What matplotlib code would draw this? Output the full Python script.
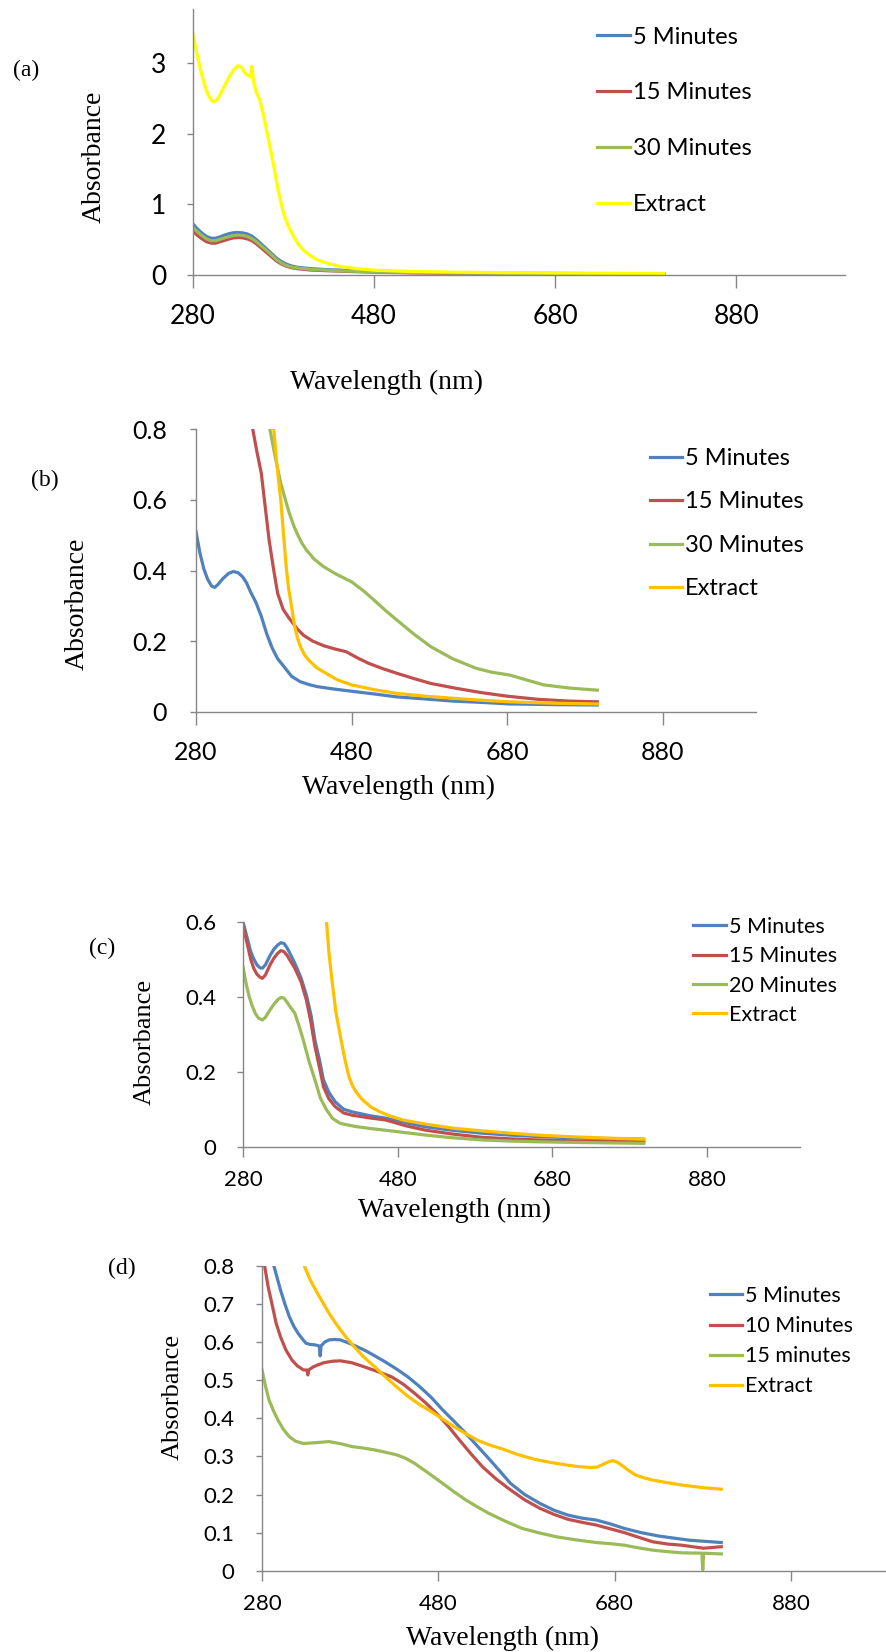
import matplotlib
matplotlib.use("Agg")
import matplotlib.pyplot as plt
from matplotlib import font_manager

names = {f.name for f in font_manager.fontManager.ttflist}
SANS = ['Lato', 'DejaVu Sans'] if 'Lato' in names else ['Liberation Sans', 'DejaVu Sans']
SERIF = ['Liberation Serif', 'DejaVu Serif']

# ---------------- data ----------------
labels_abc = ["5 Minutes", "15 Minutes", "30 Minutes", "Extract"]
labels_c = ["5 Minutes", "15 Minutes", "20 Minutes", "Extract"]
labels_d = ["5 Minutes", "10 Minutes", "15 minutes", "Extract"]
x_ticks = [280, 480, 680, 880]

# panel (a)
a_wl_5 = [280, 285, 290, 295, 300, 305, 310, 315, 320, 325, 330, 335, 340, 345, 350, 356, 362, 367, 372, 377, 382, 388, 395, 402, 410, 425, 440, 460, 480, 520, 550, 600, 650, 720, 800]
a_ab_5 = [0.72, 0.65, 0.59, 0.545, 0.52, 0.52, 0.54, 0.565, 0.585, 0.598, 0.60, 0.595, 0.58, 0.55, 0.50, 0.43, 0.36, 0.30, 0.24, 0.195, 0.16, 0.13, 0.11, 0.10, 0.09, 0.078, 0.07, 0.06, 0.05, 0.04, 0.035, 0.03, 0.025, 0.02, 0.018]
a_wl_15 = [280, 285, 290, 295, 300, 305, 310, 315, 320, 325, 330, 335, 340, 345, 350, 356, 362, 367, 372, 377, 382, 388, 395, 402, 410, 425, 440, 460, 480, 520, 550, 600, 650, 720, 800]
a_ab_15 = [0.62, 0.56, 0.51, 0.47, 0.45, 0.45, 0.47, 0.49, 0.51, 0.525, 0.53, 0.525, 0.51, 0.485, 0.44, 0.375, 0.31, 0.255, 0.20, 0.16, 0.13, 0.105, 0.09, 0.08, 0.07, 0.062, 0.055, 0.047, 0.04, 0.03, 0.025, 0.02, 0.015, 0.012, 0.01]
a_wl_30 = [280, 285, 290, 295, 300, 305, 310, 315, 320, 325, 330, 335, 340, 345, 350, 356, 362, 367, 372, 377, 382, 388, 395, 402, 410, 425, 440, 460, 480, 520, 550, 600, 650, 720, 800]
a_ab_30 = [0.67, 0.61, 0.555, 0.51, 0.485, 0.485, 0.505, 0.525, 0.545, 0.558, 0.565, 0.56, 0.545, 0.515, 0.47, 0.405, 0.34, 0.28, 0.22, 0.175, 0.14, 0.115, 0.10, 0.09, 0.08, 0.07, 0.06, 0.052, 0.045, 0.035, 0.03, 0.025, 0.02, 0.017, 0.015]
a_wl_ex = [280, 284, 288, 292, 296, 300, 303, 306, 310, 315, 320, 325, 330, 334, 337, 341, 344, 345, 347, 350, 354, 358, 362, 368, 374, 380, 385, 390, 396, 402, 410, 418, 430, 443, 460, 481, 520, 570, 650, 720, 800]
a_ab_ex = [3.40, 3.15, 2.92, 2.72, 2.57, 2.47, 2.45, 2.47, 2.55, 2.68, 2.80, 2.90, 2.96, 2.93, 2.86, 2.82, 2.80, 2.95, 2.72, 2.58, 2.47, 2.25, 2.00, 1.62, 1.20, 0.87, 0.70, 0.57, 0.44, 0.35, 0.27, 0.21, 0.16, 0.12, 0.09, 0.068, 0.05, 0.04, 0.03, 0.025, 0.02]

# panel (b)
b_wl_5 = [280, 285, 290, 295, 300, 304, 308, 315, 322, 328, 334, 340, 345, 350, 357, 364, 371, 378, 385, 393, 403, 414, 425, 436, 458, 480, 510, 538, 575, 611, 650, 683, 740, 796]
b_ab_5 = [0.51, 0.45, 0.405, 0.375, 0.356, 0.352, 0.36, 0.378, 0.392, 0.397, 0.394, 0.382, 0.365, 0.34, 0.31, 0.27, 0.22, 0.18, 0.15, 0.128, 0.10, 0.085, 0.077, 0.071, 0.064, 0.058, 0.05, 0.042, 0.036, 0.030, 0.026, 0.022, 0.02, 0.019]
b_wl_15 = [340, 347, 353, 358, 364, 369, 374, 380, 385, 392, 400, 410, 418, 430, 444, 458, 473, 488, 502, 520, 538, 560, 582, 615, 647, 680, 720, 760, 796]
b_ab_15 = [0.96, 0.88, 0.80, 0.74, 0.675, 0.58, 0.486, 0.40, 0.335, 0.29, 0.264, 0.235, 0.217, 0.20, 0.187, 0.178, 0.170, 0.152, 0.137, 0.122, 0.109, 0.094, 0.080, 0.066, 0.054, 0.044, 0.035, 0.03, 0.028]
b_wl_30 = [360, 368, 375, 382, 389, 395, 400, 406, 411, 416, 422, 432, 444, 460, 480, 495, 509, 523, 538, 560, 582, 610, 640, 660, 683, 705, 727, 760, 796]
b_ab_30 = [0.95, 0.87, 0.80, 0.72, 0.647, 0.60, 0.562, 0.525, 0.50, 0.478, 0.458, 0.432, 0.411, 0.39, 0.368, 0.343, 0.316, 0.288, 0.260, 0.22, 0.184, 0.15, 0.123, 0.112, 0.104, 0.09, 0.076, 0.067, 0.061]
b_wl_ex = [370, 375, 380, 384, 389, 393, 396, 399, 402, 407, 411, 415, 420, 425, 435, 447, 462, 480, 510, 538, 575, 611, 650, 683, 740, 796]
b_ab_ex = [0.95, 0.88, 0.80, 0.70, 0.60, 0.49, 0.41, 0.35, 0.31, 0.24, 0.205, 0.18, 0.16, 0.146, 0.125, 0.109, 0.09, 0.076, 0.062, 0.052, 0.044, 0.038, 0.032, 0.028, 0.024, 0.022]

# panel (c)
c_wl_5 = [280, 285, 290, 294, 298, 302, 305, 309, 315, 320, 325, 329, 333, 337, 342, 347, 351, 355, 362, 368, 373, 379, 384, 391, 399, 410, 421, 443, 465, 490, 516, 550, 589, 625, 662, 720, 798]
c_ab_5 = [0.60, 0.56, 0.52, 0.50, 0.485, 0.477, 0.476, 0.485, 0.51, 0.527, 0.538, 0.544, 0.542, 0.53, 0.51, 0.489, 0.47, 0.45, 0.404, 0.35, 0.284, 0.23, 0.178, 0.145, 0.12, 0.10, 0.093, 0.083, 0.076, 0.064, 0.053, 0.044, 0.036, 0.031, 0.027, 0.023, 0.020]
c_wl_15 = [280, 285, 290, 294, 298, 302, 305, 309, 315, 320, 325, 329, 333, 337, 342, 347, 351, 355, 362, 368, 373, 379, 384, 391, 399, 410, 421, 443, 465, 490, 516, 550, 589, 625, 662, 720, 798]
c_ab_15 = [0.59, 0.545, 0.50, 0.475, 0.46, 0.452, 0.449, 0.458, 0.485, 0.503, 0.516, 0.523, 0.52, 0.51, 0.493, 0.476, 0.458, 0.44, 0.391, 0.33, 0.267, 0.21, 0.16, 0.128, 0.107, 0.09, 0.084, 0.077, 0.071, 0.056, 0.044, 0.034, 0.025, 0.021, 0.018, 0.015, 0.013]
c_wl_20 = [280, 284, 288, 292, 296, 300, 305, 309, 315, 320, 325, 329, 333, 337, 342, 347, 352, 358, 365, 373, 380, 388, 396, 406, 425, 443, 480, 516, 550, 589, 625, 662, 720, 798]
c_ab_20 = [0.48, 0.435, 0.40, 0.375, 0.355, 0.343, 0.338, 0.345, 0.365, 0.38, 0.392, 0.398, 0.396, 0.385, 0.37, 0.356, 0.325, 0.284, 0.23, 0.178, 0.13, 0.098, 0.075, 0.062, 0.054, 0.049, 0.04, 0.031, 0.024, 0.018, 0.015, 0.013, 0.011, 0.009]
c_wl_ex = [380, 384, 388, 391, 395, 400, 406, 412, 417, 421, 425, 430, 435, 446, 457, 470, 487, 520, 553, 590, 626, 660, 699, 750, 798]
c_ab_ex = [0.90, 0.74, 0.60, 0.52, 0.444, 0.36, 0.293, 0.23, 0.187, 0.165, 0.15, 0.136, 0.124, 0.105, 0.093, 0.082, 0.071, 0.059, 0.049, 0.042, 0.036, 0.031, 0.027, 0.023, 0.020]

# panel (d)
d_wl_5 = [285, 293.5, 301, 306, 311, 316, 321, 326, 330, 335, 340, 345, 346, 347, 351, 356, 362, 369, 378, 388, 398, 408, 420, 433, 446, 459, 472, 485, 498, 511, 524, 537, 550, 562, 578, 595, 611, 627, 643, 659, 675, 691, 710, 730, 765, 801]
d_ab_5 = [0.86, 0.80, 0.737, 0.70, 0.667, 0.642, 0.623, 0.608, 0.597, 0.594, 0.593, 0.59, 0.564, 0.59, 0.60, 0.606, 0.607, 0.606, 0.598, 0.588, 0.577, 0.564, 0.548, 0.529, 0.508, 0.483, 0.455, 0.422, 0.392, 0.361, 0.328, 0.295, 0.261, 0.229, 0.2, 0.177, 0.159, 0.146, 0.138, 0.133, 0.123, 0.111, 0.1, 0.091, 0.08, 0.074]
d_wl_10 = [280, 283, 287, 292, 296, 301, 307, 314, 320, 327, 331, 332, 333, 338, 343, 350, 360, 369, 382, 395, 410, 427, 440, 453, 466, 478, 491, 504, 517, 530, 546, 562, 578, 595, 611, 627, 643, 659, 675, 691, 707, 723, 740, 756, 781, 801]
d_ab_10 = [0.83, 0.80, 0.745, 0.693, 0.65, 0.614, 0.58, 0.553, 0.538, 0.527, 0.527, 0.514, 0.527, 0.535, 0.54, 0.546, 0.55, 0.551, 0.546, 0.536, 0.524, 0.509, 0.49, 0.466, 0.44, 0.413, 0.38, 0.343, 0.307, 0.273, 0.24, 0.212, 0.186, 0.164, 0.148, 0.135, 0.127, 0.120, 0.11, 0.100, 0.088, 0.076, 0.07, 0.067, 0.059, 0.063]
d_wl_15 = [280, 284, 288, 293, 298, 304, 311, 318, 327, 340, 356, 370, 382, 395, 408, 420, 433, 443, 453, 469, 485, 498, 511, 524, 537, 556, 575, 595, 614, 636, 659, 675, 691, 707, 723, 740, 756, 779, 780, 781, 801]
d_ab_15 = [0.527, 0.484, 0.448, 0.42, 0.396, 0.372, 0.352, 0.34, 0.334, 0.336, 0.339, 0.333, 0.326, 0.322, 0.317, 0.311, 0.304, 0.295, 0.282, 0.256, 0.229, 0.207, 0.186, 0.168, 0.151, 0.13, 0.111, 0.099, 0.089, 0.081, 0.074, 0.071, 0.067, 0.06, 0.054, 0.05, 0.047, 0.046, 0.002, 0.046, 0.044]
d_wl_ex = [320, 328, 335, 343, 350, 356, 365, 375, 385, 395, 408, 420, 433, 446, 459, 472, 485, 498, 511, 524, 537, 551, 570, 590, 608, 627, 640, 653, 660, 665, 672, 678, 683, 688, 696, 704, 713, 723, 740, 756, 780, 801]
d_ab_ex = [0.86, 0.80, 0.762, 0.728, 0.70, 0.676, 0.645, 0.614, 0.587, 0.562, 0.535, 0.509, 0.482, 0.457, 0.436, 0.418, 0.398, 0.378, 0.36, 0.343, 0.331, 0.321, 0.305, 0.292, 0.284, 0.277, 0.273, 0.271, 0.272, 0.277, 0.285, 0.289, 0.285, 0.277, 0.263, 0.251, 0.244, 0.238, 0.231, 0.225, 0.218, 0.214]

BLUE, RED, GREEN = '#4F81BD', '#C0504D', '#9BBB59'
YELLOW, GOLD = '#FFFF00', '#FFC000'
AXC = '#868686'

W, H = 886, 1652
fig = plt.figure(figsize=(W / 100, H / 100), dpi=100)


def px_axes(left, right, y0, ytop):
    return fig.add_axes([left / W, 1 - y0 / H, (right - left) / W, (y0 - ytop) / H])


def style(ax, ylim, yticks, yfmt, tfs, xpad, ypad, xtl):
    ax.set_xlim(280, 1000)
    ax.set_ylim(*ylim)
    ax.set_xticks(x_ticks)
    ax.set_xticklabels([str(t) for t in x_ticks])
    ax.set_yticks(yticks)
    ax.set_yticklabels([yfmt(v) for v in yticks])
    for s in ['top', 'right']:
        ax.spines[s].set_visible(False)
    for s in ['left', 'bottom']:
        ax.spines[s].set_color(AXC)
        ax.spines[s].set_linewidth(1.0)
    ax.tick_params(axis='x', direction='out', length=xtl, width=1, color=AXC, pad=xpad, labelsize=tfs)
    ax.tick_params(axis='y', direction='out', length=4, width=1, color=AXC, pad=ypad, labelsize=tfs)
    for lab in ax.get_xticklabels() + ax.get_yticklabels():
        lab.set_family(SANS)
    ax.patch.set_alpha(0)


def legend(ax, lines, labels, xh, ytop, fs, hl, ls):
    leg = ax.legend(lines, labels, loc='upper left', bbox_to_anchor=(xh / W, 1 - ytop / H),
                    bbox_transform=fig.transFigure, frameon=False, prop={'family': SANS, 'size': fs},
                    handlelength=hl, handletextpad=0.12, labelspacing=ls, borderpad=0, borderaxespad=0)
    return leg


def fmt_int(v):
    return str(int(v))


def fmt_dec(v):
    return '0' if v == 0 else ('%g' % v)


LW = 2.3

# ---------- (a) ----------
ax = px_axes(193, 845, 275, 9)
l1, = ax.plot(a_wl_5, a_ab_5, color=BLUE, lw=LW)
l2, = ax.plot(a_wl_15, a_ab_15, color=RED, lw=LW)
l3, = ax.plot(a_wl_30, a_ab_30, color=GREEN, lw=LW)
l4, = ax.plot(a_wl_ex, a_ab_ex, color=YELLOW, lw=LW)
style(ax, (0, 3.76), [0, 1, 2, 3], fmt_int, 19, 12, 15, 9)
legend(ax, [l1, l2, l3, l4], labels_abc, 597, 26.5, 17, 1.4, 1.48)
fig.text(94 / W, 1 - 157 / H, 'Absorbance', rotation=90, ha='center', va='center', family=SERIF, fontsize=20)
fig.text(386 / W, 1 - 382 / H, 'Wavelength (nm)', ha='center', va='center', family=SERIF, fontsize=20)
fig.text(26 / W, 1 - 70 / H, '(a)', ha='center', va='center', family=SERIF, fontsize=17)

# ---------- (b) ----------
ax = px_axes(196, 756, 711.7, 429.3)
l1, = ax.plot(b_wl_5, b_ab_5, color=BLUE, lw=LW)
l2, = ax.plot(b_wl_15, b_ab_15, color=RED, lw=LW)
l3, = ax.plot(b_wl_30, b_ab_30, color=GREEN, lw=LW)
l4, = ax.plot(b_wl_ex, b_ab_ex, color=GOLD, lw=LW)
style(ax, (0, 0.8), [0, 0.2, 0.4, 0.6, 0.8], fmt_dec, 18, 12, 17, 9)
legend(ax, [l1, l2, l3, l4], labels_abc, 650, 448, 17, 1.36, 0.95)
fig.text(77 / W, 1 - 604 / H, 'Absorbance', rotation=90, ha='center', va='center', family=SERIF, fontsize=20)
fig.text(398 / W, 1 - 787 / H, 'Wavelength (nm)', ha='center', va='center', family=SERIF, fontsize=20)
fig.text(45 / W, 1 - 480 / H, '(b)', ha='center', va='center', family=SERIF, fontsize=17)

# ---------- (c) ----------
ax = px_axes(243, 800, 1146.7, 921.7)
l1, = ax.plot(c_wl_5, c_ab_5, color=BLUE, lw=LW)
l2, = ax.plot(c_wl_15, c_ab_15, color=RED, lw=LW)
l3, = ax.plot(c_wl_20, c_ab_20, color=GREEN, lw=LW)
l4, = ax.plot(c_wl_ex, c_ab_ex, color=GOLD, lw=LW)
style(ax, (0, 0.6), [0, 0.2, 0.4, 0.6], fmt_dec, 16, 10, 15, 7)
legend(ax, [l1, l2, l3, l4], labels_c, 693, 917, 15.5, 1.55, 0.43)
fig.text(145 / W, 1 - 1042 / H, 'Absorbance', rotation=90, ha='center', va='center', family=SERIF, fontsize=19)
fig.text(455 / W, 1 - 1210 / H, 'Wavelength (nm)', ha='center', va='center', family=SERIF, fontsize=20)
fig.text(102 / W, 1 - 948 / H, '(c)', ha='center', va='center', family=SERIF, fontsize=17)

# ---------- (d) ----------
ax = px_axes(262, 896.7, 1570.7, 1266)
l1, = ax.plot(d_wl_5, d_ab_5, color=BLUE, lw=LW)
l2, = ax.plot(d_wl_10, d_ab_10, color=RED, lw=LW)
l3, = ax.plot(d_wl_15, d_ab_15, color=GREEN, lw=LW)
l4, = ax.plot(d_wl_ex, d_ab_ex, color=GOLD, lw=LW)
style(ax, (0, 0.8), [0, 0.1, 0.2, 0.3, 0.4, 0.5, 0.6, 0.7, 0.8], fmt_dec, 16, 10, 16, 7)
legend(ax, [l1, l2, l3, l4], labels_d, 710, 1286, 15.5, 1.5, 0.47)
fig.text(173 / W, 1 - 1397 / H, 'Absorbance', rotation=90, ha='center', va='center', family=SERIF, fontsize=19)
fig.text(503 / W, 1 - 1638 / H, 'Wavelength (nm)', ha='center', va='center', family=SERIF, fontsize=20)
fig.text(122 / W, 1 - 1268 / H, '(d)', ha='center', va='center', family=SERIF, fontsize=17)

fig.savefig('out.png', dpi=100, facecolor='white')
